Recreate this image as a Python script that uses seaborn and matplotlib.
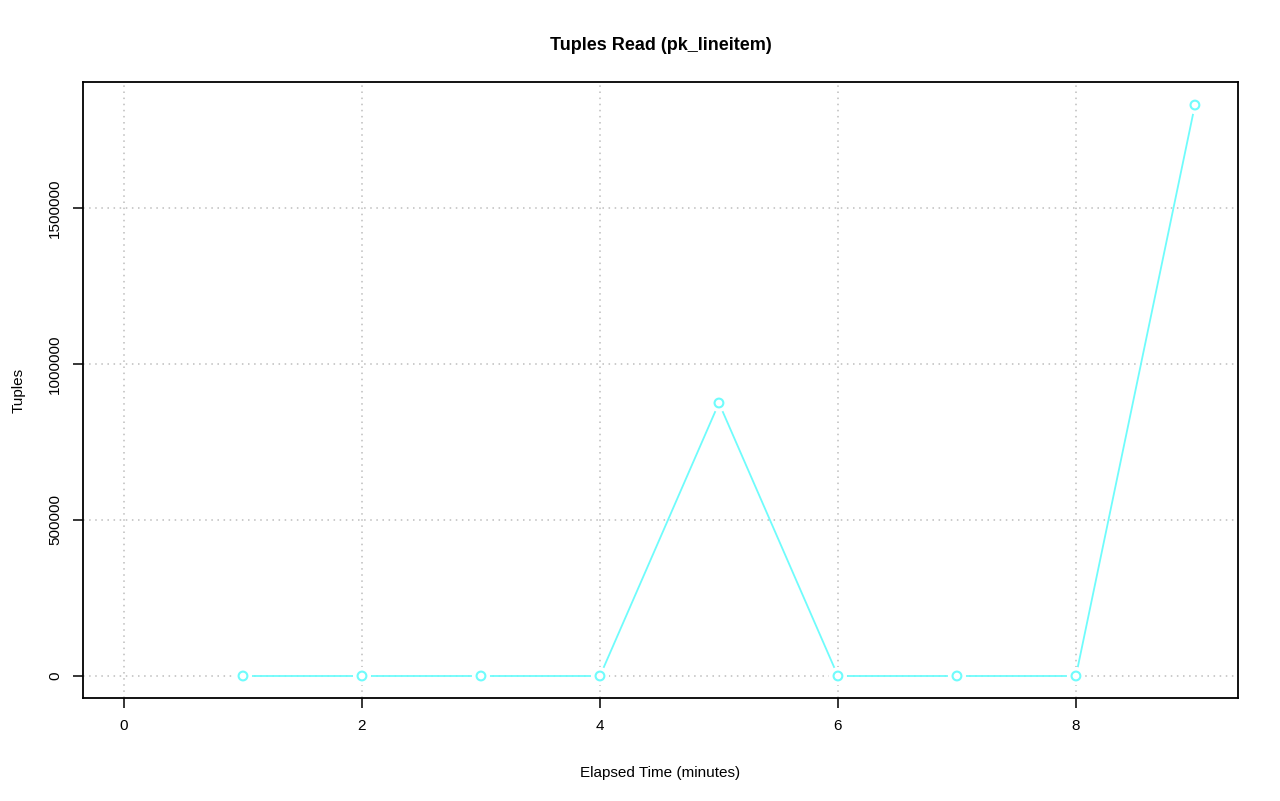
import matplotlib
matplotlib.use("Agg")
import matplotlib.pyplot as plt
import seaborn as sns
import pandas as pd

minutes = [1, 2, 3, 4, 5, 6, 7, 8, 9]
tuples_read = [0, 0, 0, 0, 875000, 0, 0, 0, 1830000]
x_ticks = [0, 2, 4, 6, 8]
y_ticks = [0, 500000, 1000000, 1500000]

sns.set_theme(style="white")
plt.rcParams['font.family'] = ['Liberation Sans', 'DejaVu Sans']
plt.rcParams['text.color'] = 'black'
plt.rcParams['axes.labelcolor'] = 'black'

df = pd.DataFrame({"minutes": minutes, "tuples": tuples_read})
color = "#6ffcfc"

fig = plt.figure(figsize=(12.8, 8.01), dpi=100)
ax = fig.add_axes([0.0648, 0.1286, 0.9023, 0.769])

sns.lineplot(data=df, x="minutes", y="tuples", ax=ax, color=color, linewidth=1.3, zorder=3)
sns.scatterplot(data=df, x="minutes", y="tuples", ax=ax, color="white", s=170,
                edgecolor="none", zorder=4)
sns.scatterplot(data=df, x="minutes", y="tuples", ax=ax, facecolor="none",
                edgecolor=color, linewidth=1.5, s=40, marker="o", zorder=5)

ax.set_xlim(-0.345, 9.361)
ax.set_ylim(-70500, 1903800)
ax.set_xticks(x_ticks)
ax.set_yticks(y_ticks)
ax.set_xticklabels([str(v) for v in x_ticks], fontsize=11)
ax.set_yticklabels([str(v) for v in y_ticks], fontsize=11, rotation=90, va="center")

for v in x_ticks:
    ax.axvline(v, color="#bdbdbd", linestyle=(0, (1, 3)), linewidth=1.1, zorder=1)
for v in y_ticks:
    ax.axhline(v, color="#bdbdbd", linestyle=(0, (1, 3)), linewidth=1.1, zorder=1)

for s in ax.spines.values():
    s.set_color("black")
    s.set_linewidth(1.3)

ax.tick_params(axis="both", which="major", direction="out", length=7, width=1.1,
               color="black", labelcolor="black", bottom=True, left=True)
ax.tick_params(axis="x", pad=8)
ax.tick_params(axis="y", pad=8)

ax.set_title("Tuples Read (pk_lineitem)", fontsize=13, fontweight="bold", pad=23,
             color="black")
ax.set_xlabel("Elapsed Time (minutes)", fontsize=11, labelpad=24, color="black")
ax.set_ylabel("Tuples", fontsize=11, labelpad=16, color="black")

fig.savefig("out.png", dpi=100, facecolor="white")
